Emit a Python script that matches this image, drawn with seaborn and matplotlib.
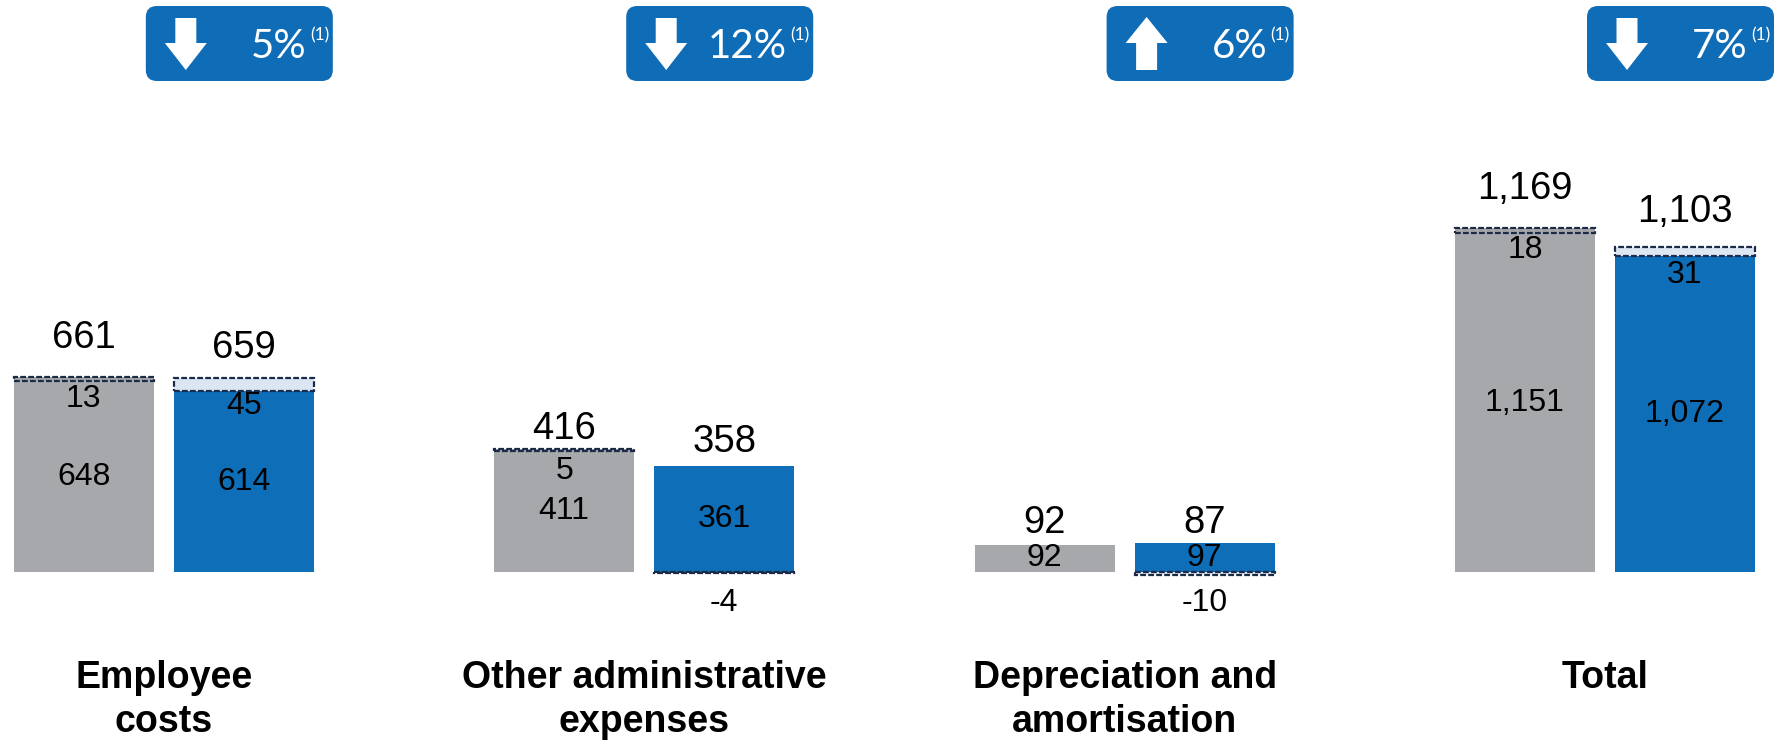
import matplotlib
matplotlib.use("Agg")
import matplotlib.pyplot as plt
from matplotlib.patches import FancyBboxPatch, Polygon
from matplotlib.transforms import IdentityTransform
import seaborn as sns
import pandas as pd

# ---------------- data ----------------
categories = ["Employee\ncosts", "Other administrative\nexpenses",
              "Depreciation and\namortisation", "Total"]
periods = ["prev", "curr"]
base_prev = [648, 411, 92, 1151]
base_curr = [614, 361, 97, 1072]
adj_prev = [13, 5, 0, 18]
adj_curr = [45, -4, -10, 31]
total_prev = ["661", "416", "92", "1,169"]
total_curr = ["659", "358", "87", "1,103"]
base_prev_lbl = ["648", "411", "92", "1,151"]
base_curr_lbl = ["614", "361", "97", "1,072"]
adj_prev_lbl = ["13", "5", "", "18"]
adj_curr_lbl = ["45", "-4", "-10", "31"]
badge_pct = ["5%", "12%", "6%", "7%"]
badge_dir = ["down", "down", "up", "down"]

# ---------------- style ----------------
GRAY = "#A7A8AB"
BLUE = "#0E6EB8"
BADGE = "#0F6CB6"
LIGHT = "#DCE6F2"
NAVY = "#1B2A47"
W, H, DPI = 1790, 741, 100

sns.set_theme(style="white")
plt.rcParams["font.family"] = ["Liberation Sans", "DejaVu Sans"]

fig = plt.figure(figsize=(W / DPI, H / DPI), dpi=DPI)
ax = fig.add_axes([0, 0, 1, 1])

df = pd.DataFrame({
    "category": categories * 2,
    "period": [periods[0]] * 4 + [periods[1]] * 4,
    "value": base_prev + base_curr,
})
sns.barplot(data=df, x="category", y="value", hue="period", order=categories,
            hue_order=periods, palette=[GRAY, BLUE], width=0.666, gap=0.125,
            dodge=True, legend=False, saturation=1, errorbar=None,
            linewidth=0, ax=ax)

ax.set_xlim(-0.3410, 3.3851)
ax.set_ylim(-573.9, 1942.3)
ax.axis("off")

# locate bars drawn by seaborn
bars = {}
for p in list(ax.patches):
    cx = p.get_x() + p.get_width() / 2
    g = int(round(cx))
    h = 0 if cx < g else 1
    bars[(g, h)] = (cx, p.get_width())

pads_prev = [29, 10, 12, 29]
pads_curr = [20, 14, 10, 25]
PT = 72 / DPI

for g in range(4):
    for h in range(2):
        cx, w = bars[(g, h)]
        base = (base_prev if h == 0 else base_curr)[g]
        adj = (adj_prev if h == 0 else adj_curr)[g]
        tot = (total_prev if h == 0 else total_curr)[g]
        blbl = (base_prev_lbl if h == 0 else base_curr_lbl)[g]
        albl = (adj_prev_lbl if h == 0 else adj_curr_lbl)[g]
        pad = (pads_prev if h == 0 else pads_curr)[g]
        fill = (GRAY if h == 0 else LIGHT)
        if adj > 0:
            ax.bar(cx, adj, bottom=base, width=w, color=fill, edgecolor=NAVY,
                   linewidth=1.6, linestyle=(0, (2.6, 1.0)), zorder=3)
            top = base + adj
        elif adj < 0:
            ax.bar(cx, adj, bottom=0, width=w, color=LIGHT, edgecolor=NAVY,
                   linewidth=1.6, linestyle=(0, (2.6, 1.0)), zorder=3)
            top = base
        else:
            top = base
        # total label
        ax.annotate(tot, xy=(cx, top), xytext=(0, pad * PT),
                    textcoords="offset points", ha="center", va="baseline",
                    fontsize=27.5, color="black")
        # base label
        ax.text(cx, base / 2, blbl, ha="center", va="center", fontsize=23,
                color="black", zorder=5)
        # adjustment label
        if albl:
            if adj > 0:
                off = -22 if h == 0 else -28
                ax.annotate(albl, xy=(cx, top), xytext=(0, off * PT),
                            textcoords="offset points", ha="center",
                            va="center", fontsize=23, color="black", zorder=5)
            else:
                ax.annotate(albl, xy=(cx, 0), xytext=(0, -31 * PT),
                            textcoords="offset points", ha="center",
                            va="center", fontsize=23, color="black", zorder=5)

# category labels
for g, cat in enumerate(categories):
    lines = cat.split("\n")
    for k, line in enumerate(lines):
        ax.annotate(line, xy=(g, H - 688 - 44 * k),
                    xycoords=("data", "figure pixels"), ha="center",
                    va="baseline", fontsize=27, fontweight="bold",
                    color="black")

# badges
ident = IdentityTransform()
for g in range(4):
    cpx = ax.transData.transform((g, 0))[0]
    left = cpx - 18
    top_y, bot_y = 6, 81
    box = FancyBboxPatch((left, H - bot_y), 187, bot_y - top_y,
                         boxstyle="round,pad=0,rounding_size=11",
                         transform=ident, facecolor=BADGE, edgecolor="none",
                         clip_on=False, zorder=6)
    ax.add_artist(box)
    ax_c = left + 40
    if badge_dir[g] == "down":
        pts = [(ax_c - 10.5, 18), (ax_c + 10.5, 18), (ax_c + 10.5, 43),
               (ax_c + 21, 43), (ax_c, 70), (ax_c - 21, 43), (ax_c - 10.5, 43)]
    else:
        pts = [(ax_c - 10.5, 70), (ax_c + 10.5, 70), (ax_c + 10.5, 43),
               (ax_c + 21, 43), (ax_c, 17), (ax_c - 21, 43), (ax_c - 10.5, 43)]
    pts = [(x, H - y) for x, y in pts]
    ax.add_artist(Polygon(pts, closed=True, transform=ident, facecolor="white",
                          edgecolor="none", clip_on=False, zorder=7))
    ax.text(left + 161, H - 46, badge_pct[g], transform=ident, ha="right",
            va="center", fontsize=29, color="white", family=["Lato", "DejaVu Sans"],
            zorder=8)
    ax.text(left + 164, H - 35, "(1)", transform=ident, ha="left",
            va="center", fontsize=12.5, color="white",
            family=["Lato", "DejaVu Sans"], zorder=8)

fig.savefig("out.png", dpi=DPI)
